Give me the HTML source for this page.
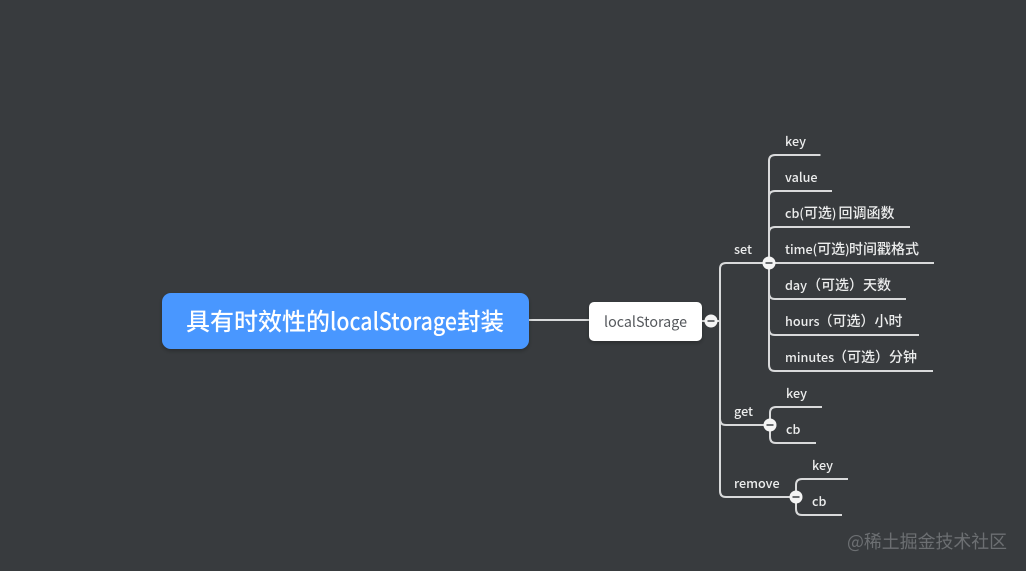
<!DOCTYPE html>
<html>
<head>
<meta charset="utf-8">
<style>
html,body{margin:0;padding:0;background:#383b3e;width:1026px;height:571px;overflow:hidden}
svg{display:block}
text{font-family:"Noto Sans CJK SC","Liberation Sans",sans-serif}
.t{font-size:12.6px;font-weight:500;fill:#eceded}
.t tspan{font-size:14px}
</style>
</head>
<body>
<svg width="1026" height="571" viewBox="0 0 1026 571" xmlns="http://www.w3.org/2000/svg">
<defs>
<filter id="s" x="-10%" y="-20%" width="120%" height="150%"><feDropShadow dx="0" dy="2" stdDeviation="2" flood-color="#000" flood-opacity="0.25"/></filter>
</defs>
<rect width="1026" height="571" fill="#383b3e"/>
<g fill="none" stroke="#d9dadb" stroke-width="2">
<path d="M529 320H589"/>
<path d="M702 321H720"/>
<path d="M769 263H726Q720 263 720 269V491Q720 497 726 497H796"/>
<path d="M720 419Q720 425 726 425H770"/>
<path d="M769 263H934"/>
<path d="M820.5 155H775Q769 155 769 161V365Q769 371 775 371H933"/>
<path d="M832 191H775Q769 191 769 197"/>
<path d="M910 227H775Q769 227 769 233"/>
<path d="M769 293Q769 299 775 299H906"/>
<path d="M769 329Q769 335 775 335H919"/>
<path d="M822 407H776Q770 407 770 413V437Q770 443 776 443H816"/>
<path d="M848 479H802Q796 479 796 485V509Q796 515 802 515H842"/>
</g>
<rect x="162" y="293" width="367" height="56" rx="9" fill="#4a97ff" filter="url(#s)"/>
<g font-size="24" font-weight="500" fill="#ffffff">
<text x="186" y="330" textLength="144" lengthAdjust="spacingAndGlyphs">具有时效性的</text>
<text x="330" y="330" textLength="127" lengthAdjust="spacingAndGlyphs">localStorage</text>
<text x="457" y="330" textLength="47" lengthAdjust="spacingAndGlyphs">封装</text>
</g>
<rect x="589" y="302" width="113" height="39" rx="5" fill="#ffffff" filter="url(#s)"/>
<text x="604" y="327" font-size="14.5" fill="#55585c" textLength="83" lengthAdjust="spacingAndGlyphs">localStorage</text>
<g fill="#f4f4f4">
<circle cx="711" cy="321" r="6.5"/>
<circle cx="769" cy="263" r="6.5"/>
<circle cx="770" cy="425" r="6.5"/>
<circle cx="796" cy="497" r="6.5"/>
</g>
<g fill="#6a6d70">
<rect x="707.500" y="320" width="7" height="2"/>
<rect x="765.500" y="262" width="7" height="2"/>
<rect x="766.500" y="424" width="7" height="2"/>
<rect x="792.500" y="496" width="7" height="2"/>
</g>
<text class="t" x="785" y="146">key</text>
<text class="t" x="785" y="182">value</text>
<text class="t" x="785" y="218">cb(<tspan>可选</tspan>) <tspan x="838.5">回调函数</tspan></text>
<text class="t" x="785" y="254">time(<tspan>可选</tspan>)<tspan x="849">时间戳格式</tspan></text>
<text class="t" x="785" y="290">day<tspan x="807">（可选）</tspan><tspan x="863">天数</tspan></text>
<text class="t" x="785" y="326">hours<tspan x="818.5">（可选）</tspan><tspan x="874.5">小时</tspan></text>
<text class="t" x="785" y="362">minutes<tspan x="833">（可选）</tspan><tspan x="889">分钟</tspan></text>
<text class="t" x="734" y="254">set</text>
<text class="t" x="734" y="416">get</text>
<text class="t" x="734" y="488">remove</text>
<text class="t" x="786" y="398">key</text>
<text class="t" x="786" y="434">cb</text>
<text class="t" x="812" y="470">key</text>
<text class="t" x="812" y="506">cb</text>
<text x="847" y="548" font-size="18" fill="#6c6f72" textLength="160" lengthAdjust="spacingAndGlyphs">@稀土掘金技术社区</text>
</svg>
</body>
</html>
